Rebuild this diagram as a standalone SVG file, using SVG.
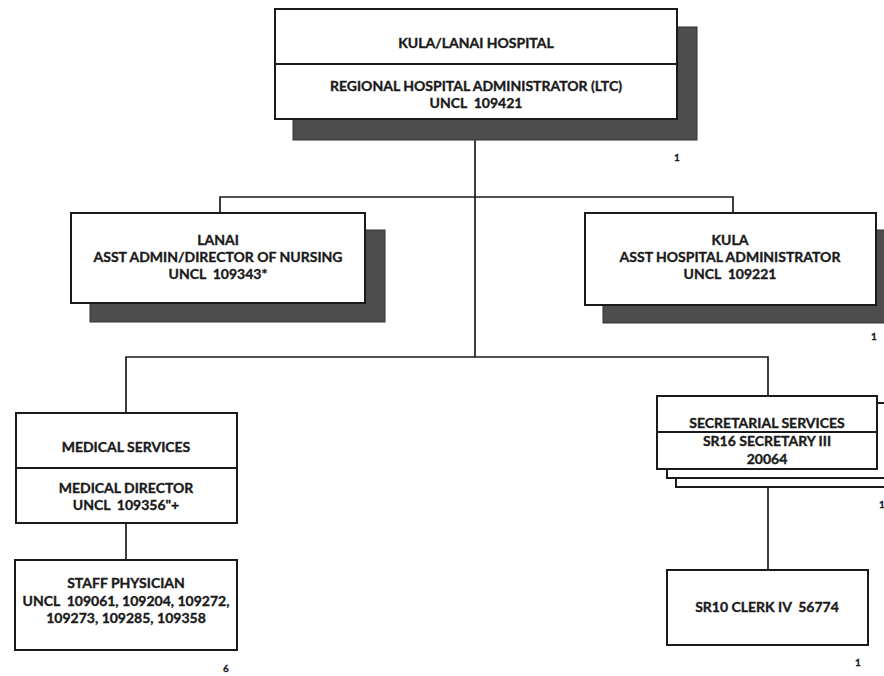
<svg xmlns="http://www.w3.org/2000/svg" width="884" height="676" viewBox="0 0 884 676">
<style>
.bg{fill:#ffffff}
.box{fill:#ffffff;stroke:#1a1a1a;stroke-width:2}
.shadow{fill:#4d4d4d;stroke:#333333;stroke-width:1}
.div{stroke:#1a1a1a;stroke-width:2}
.conn{stroke:#1a1a1a;stroke-width:1.7;fill:none}
text{font-family:Lato,"Liberation Sans",sans-serif;font-weight:bold;font-size:14px;fill:#1a1a1a;stroke:#1a1a1a;stroke-width:0.35;text-anchor:middle}
.num{font-size:10px;stroke-width:0.3}
</style>
<rect class="bg" x="0" y="0" width="884" height="676"/>
<g id="connectors">
<line class="conn" x1="475" y1="140" x2="475" y2="357"/>
<polyline class="conn" points="220,213 220,197 733,197 733,213"/>
<polyline class="conn" points="126,413 126,357 768,357 768,396"/>
<line class="conn" x1="126" y1="523" x2="126" y2="560"/>
<line class="conn" x1="768" y1="487" x2="768" y2="570"/>
</g>
<g id="kula-lanai-hospital">
<rect class="shadow" x="293" y="27" width="404" height="113"/>
<rect class="box" x="275" y="9" width="402" height="110"/>
<line class="div" x1="275" y1="64" x2="677" y2="64"/>
<text x="476" y="48">KULA/LANAI HOSPITAL</text>
<text x="476" y="91">REGIONAL HOSPITAL ADMINISTRATOR (LTC)</text>
<text x="476" y="108">UNCL&#160; 109421</text>
<text class="num" x="677" y="161">1</text>
</g>
<g id="lanai">
<rect class="shadow" x="90" y="230" width="295" height="92"/>
<rect class="box" x="71" y="213" width="294" height="90"/>
<text x="218" y="245">LANAI</text>
<text x="218" y="262">ASST ADMIN/DIRECTOR OF NURSING</text>
<text x="218" y="279">UNCL&#160; 109343*</text>
</g>
<g id="kula">
<rect class="shadow" x="603" y="230" width="290" height="93"/>
<rect class="box" x="585" y="213" width="291" height="92"/>
<text x="730" y="245">KULA</text>
<text x="730" y="262">ASST HOSPITAL ADMINISTRATOR</text>
<text x="730" y="279">UNCL&#160; 109221</text>
<text class="num" x="874" y="340">1</text>
</g>
<g id="medical-services">
<rect class="box" x="16" y="413" width="221" height="110"/>
<line class="div" x1="16" y1="468" x2="237" y2="468"/>
<text x="126" y="452">MEDICAL SERVICES</text>
<text x="126" y="493">MEDICAL DIRECTOR</text>
<text x="126" y="510">UNCL&#160; 109356"+</text>
</g>
<g id="staff-physician">
<rect class="box" x="15" y="560" width="222" height="90"/>
<text x="126" y="588">STAFF PHYSICIAN</text>
<text x="126" y="606">UNCL&#160; 109061, 109204, 109272,</text>
<text x="126" y="623">109273, 109285, 109358</text>
<text class="num" x="226" y="672">6</text>
</g>
<g id="secretarial-services">
<rect class="box" x="676" y="410" width="220" height="77"/>
<rect class="box" x="667" y="403" width="225" height="75"/>
<rect class="box" x="657" y="396" width="220" height="73"/>
<line class="div" x1="657" y1="432" x2="877" y2="432"/>
<text x="767" y="428">SECRETARIAL SERVICES</text>
<text x="767" y="446">SR16 SECRETARY III</text>
<text x="767" y="464">20064</text>
<text class="num" x="882" y="508">1</text>
</g>
<g id="clerk">
<rect class="box" x="667" y="570" width="201" height="75"/>
<text x="767" y="612">SR10 CLERK IV&#160; 56774</text>
<text class="num" x="858" y="666">1</text>
</g>
</svg>
